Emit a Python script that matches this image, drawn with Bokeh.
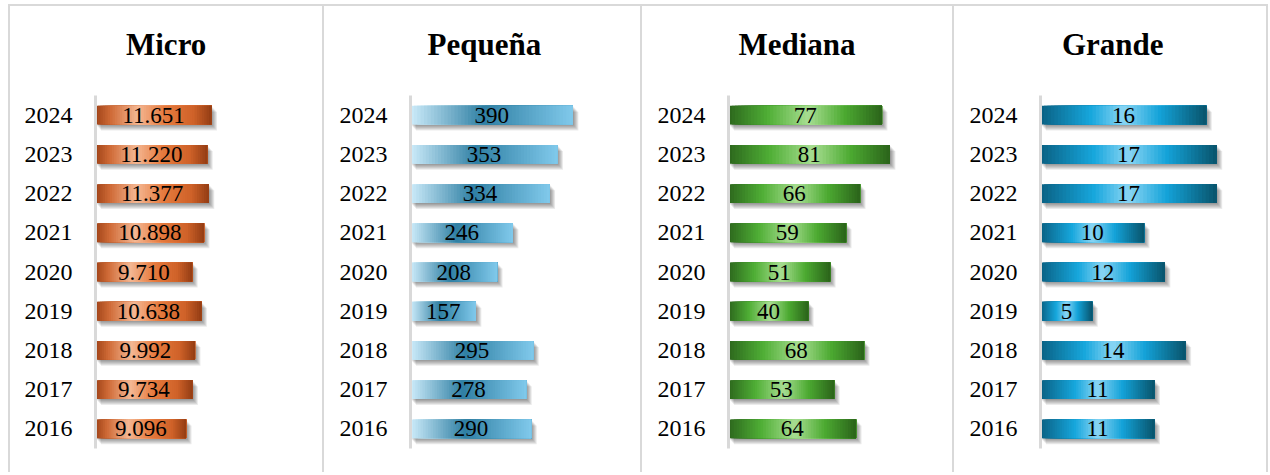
from bokeh.plotting import figure
from bokeh.layouts import row, column, Spacer
from bokeh.models import FactorRange, Range1d, ColumnDataSource, Title
from bokeh.transform import dodge
from bokeh.core.properties import value
from bokeh.embed import file_html
from bokeh.resources import INLINE

# ---------------- data ----------------
years = ["2016", "2017", "2018", "2019", "2020", "2021", "2022", "2023", "2024"]
micro = [9096, 9734, 9992, 10638, 9710, 10898, 11377, 11220, 11651]
pequena = [290, 278, 295, 157, 208, 246, 334, 353, 390]
mediana = [64, 53, 68, 40, 51, 59, 66, 81, 77]
grande = [11, 11, 14, 5, 12, 10, 17, 17, 16]
titles = ["Micro", "Pequeña", "Mediana", "Grande"]

# ---------------- styles ----------------
FONT = "Liberation Serif"
BORDER = "2px solid #d9d9d9"

grad_micro = [(0.0, "#a3461a"), (0.12, "#cf6a36"), (0.36, "#f4b793"), (0.6, "#e77b3e"),
              (0.85, "#cf6229"), (1.0, "#973f15")]
grad_peq = [(0.0, "#c9e9f8"), (0.45, "#2f7fa3"), (1.0, "#7fc8ea")]
grad_med = [(0.0, "#2e6a1e"), (0.25, "#4fae35"), (0.52, "#a8de92"), (0.76, "#4caa31"), (1.0, "#2c661b")]
grad_gra = [(0.0, "#0a6386"), (0.3, "#17a7dd"), (0.5, "#8ad5f4"), (0.72, "#14a3d9"), (1.0, "#09566f")]


def hex_rgb(h):
    h = h.lstrip("#")
    return tuple(int(h[i:i + 2], 16) for i in (0, 2, 4))


def interp(stops, t):
    for (p0, c0), (p1, c1) in zip(stops[:-1], stops[1:]):
        if p0 <= t <= p1:
            f = (t - p0) / (p1 - p0) if p1 > p0 else 0
            a, b = hex_rgb(c0), hex_rgb(c1)
            return "#%02x%02x%02x" % tuple(int(round(a[i] + (b[i] - a[i]) * f)) for i in range(3))
    return stops[-1][1]


def fmt(v):
    return "{:,}".format(v).replace(",", ".")


def make_panel(title, vals, stops, width, mbl, full_px, title_w, bw, styles):
    H = 468
    mbt, mbb, mbr = 89, 26, 10
    content_w = width - bw
    frame_w = content_w - mbl - mbr
    x_end = max(vals) * frame_w / full_px
    upp = x_end / frame_w            # data units per pixel
    row_px = (H - mbt - mbb) / len(years)

    p = figure(width=width, height=H,
               y_range=FactorRange(factors=years),
               x_range=Range1d(0, x_end),
               output_backend="svg", toolbar_location=None,
               x_axis_location=None,
               min_border_left=mbl, min_border_right=mbr,
               min_border_top=mbt, min_border_bottom=mbb)
    p.styles = styles
    p.outline_line_color = None
    p.background_fill_color = "white"
    p.border_fill_color = "white"
    p.grid.visible = False

    # empty spacer title between the plot frame and the real title
    p.add_layout(Title(text=" ", text_font_size="1px", standoff=29), "above")
    # real title, centred on the whole panel (not only on the frame)
    p.add_layout(Title(text=title, text_font=FONT, text_font_size="31px",
                       text_font_style="bold", text_color="black", align="left",
                       offset=content_w / 2 - mbl - title_w / 2, standoff=4), "above")

    ax = p.yaxis[0]
    ax.axis_line_color = "#d9d9d9"
    ax.axis_line_width = 3
    ax.major_tick_line_color = None
    ax.minor_tick_line_color = None
    ax.major_label_text_font = FONT
    ax.major_label_text_font_size = "24px"
    ax.major_label_text_color = "black"
    ax.major_label_standoff = 17

    src = ColumnDataSource(dict(year=years, v=vals, mid=[v / 2 for v in vals],
                                label=[fmt(v) for v in vals]))

    # soft shadow (below-right)
    for k in range(1, 7):
        dx = k * 0.9 * upp
        dy = -k * 1.0 / row_px
        p.hbar(y=dodge("year", dy, range=p.y_range), left=dx,
               right=dodge("v", dx, range=p.x_range), height=0.48,
               source=src, fill_color="#000000", fill_alpha=0.08, line_color=None)

    # gradient bar built from overlapping strips
    N = 48
    for i in range(N):
        t = i / (N - 1)
        col = interp(stops, t)
        s = ColumnDataSource(dict(year=years, left=[v * i / N for v in vals], right=vals))
        p.hbar(y="year", left="left", right="right", height=0.48, source=s,
               fill_color=col, line_color=None)

    p.text(x="mid", y="year", text="label", source=src,
           text_font=value(FONT), text_font_size="23px", text_color="black",
           text_align="center", text_baseline="middle")
    return p


lb = {"border-top": BORDER, "border-left": BORDER}
last = dict(lb, **{"border-right": BORDER})

p1 = make_panel(titles[0], micro, grad_micro, 314, 85, 115, 81, 2, lb)
p2 = make_panel(titles[1], pequena, grad_peq, 318, 86, 161, 110, 2, lb)
p3 = make_panel(titles[2], mediana, grad_med, 312, 86, 160, 118, 2, lb)
p4 = make_panel(titles[3], grande, grad_gra, 316, 86, 173, 97, 4, last)

layout = column(Spacer(height=4),
                row(Spacer(width=8), p1, p2, p3, p4, spacing=0),
                spacing=0)
open("out.html", "w").write(file_html(layout, INLINE))
